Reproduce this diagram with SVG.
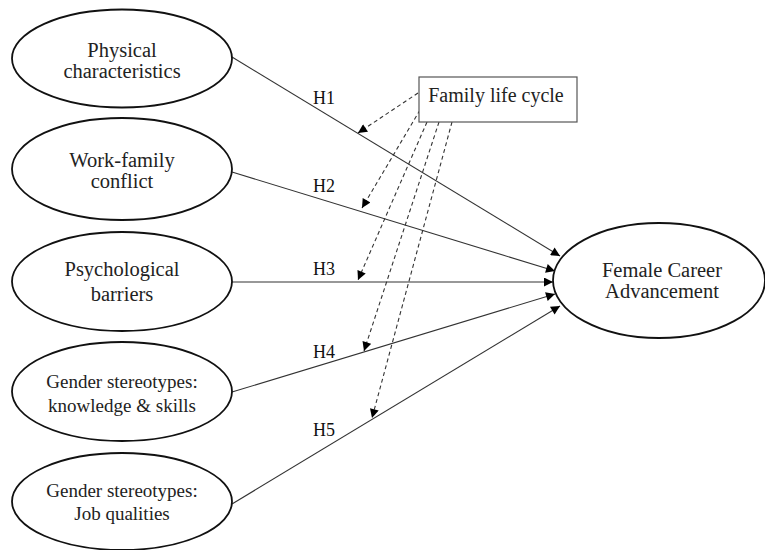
<svg xmlns="http://www.w3.org/2000/svg" width="765" height="550" viewBox="0 0 765 550">
<style>
.node ellipse{fill:#fff;stroke:#111;stroke-width:1.8}
.t{font-family:"Liberation Serif","Times New Roman",serif;fill:#222;text-anchor:middle}
.big{font-size:20.5px}
.small{font-size:19px}
.lab{font-family:"Liberation Serif","Times New Roman",serif;fill:#111;font-size:18px}
.solid{stroke:#333;stroke-width:1.1;fill:none}
.dash{stroke:#333;stroke-width:1.1;fill:none;stroke-dasharray:4 3}
</style>
<defs>
<marker id="ah" viewBox="0 0 10 10" refX="10" refY="5" markerWidth="11" markerHeight="9" markerUnits="userSpaceOnUse" orient="auto">
<path d="M0,0 L10,5 L0,10 z" fill="#000"/>
</marker>
</defs>
<rect width="765" height="550" fill="#fff"/>
<g id="connectors">
<line class="solid" x1="232" y1="57" x2="560" y2="256" marker-end="url(#ah)"/>
<line class="solid" x1="232" y1="172" x2="555" y2="271" marker-end="url(#ah)"/>
<line class="solid" x1="232" y1="282" x2="553" y2="282" marker-end="url(#ah)"/>
<line class="solid" x1="232" y1="392" x2="555" y2="294" marker-end="url(#ah)"/>
<line class="solid" x1="232" y1="504" x2="560" y2="306" marker-end="url(#ah)"/>
<line class="dash" x1="418" y1="93" x2="358" y2="133" marker-end="url(#ah)"/>
<line class="dash" x1="420" y1="110" x2="362" y2="208" marker-end="url(#ah)"/>
<line class="dash" x1="427" y1="122" x2="358" y2="280" marker-end="url(#ah)"/>
<line class="dash" x1="439" y1="122" x2="364" y2="351" marker-end="url(#ah)"/>
<line class="dash" x1="452" y1="122" x2="372" y2="418" marker-end="url(#ah)"/>
<text class="lab" x="313" y="104">H1</text>
<text class="lab" x="313" y="192">H2</text>
<text class="lab" x="313" y="275">H3</text>
<text class="lab" x="313" y="358">H4</text>
<text class="lab" x="313" y="436">H5</text>
</g>
<g id="n1" class="node">
<ellipse cx="122" cy="58.5" rx="110" ry="49"/>
<text class="t big" x="122" y="57">Physical</text>
<text class="t big" x="122" y="78">characteristics</text>
</g>
<g id="n2" class="node">
<ellipse cx="122" cy="169" rx="110" ry="51"/>
<text class="t big" x="122" y="167">Work-family</text>
<text class="t big" x="122" y="188">conflict</text>
</g>
<g id="n3" class="node">
<ellipse cx="122" cy="281.5" rx="110" ry="49.5"/>
<text class="t big" x="122" y="276">Psychological</text>
<text class="t big" x="122" y="301">barriers</text>
</g>
<g id="n4" class="node">
<ellipse cx="122" cy="391.5" rx="110" ry="49.5"/>
<text class="t small" x="122" y="388">Gender stereotypes:</text>
<text class="t small" x="122" y="412">knowledge &amp; skills</text>
</g>
<g id="n5" class="node">
<ellipse cx="122" cy="501.5" rx="110" ry="48.5"/>
<text class="t small" x="122" y="497">Gender stereotypes:</text>
<text class="t small" x="122" y="520">Job qualities</text>
</g>
<g id="n6" class="node">
<ellipse cx="659" cy="280.5" rx="106" ry="57.5"/>
<text class="t big" x="662" y="277">Female Career</text>
<text class="t big" x="662" y="298">Advancement</text>
</g>
<g id="moderator">
<rect x="419" y="77" width="158" height="45" fill="#fff" stroke="#555" stroke-width="1.2"/>
<text class="t" x="496" y="102" style="font-size:20px">Family life cycle</text>
</g>
</svg>
